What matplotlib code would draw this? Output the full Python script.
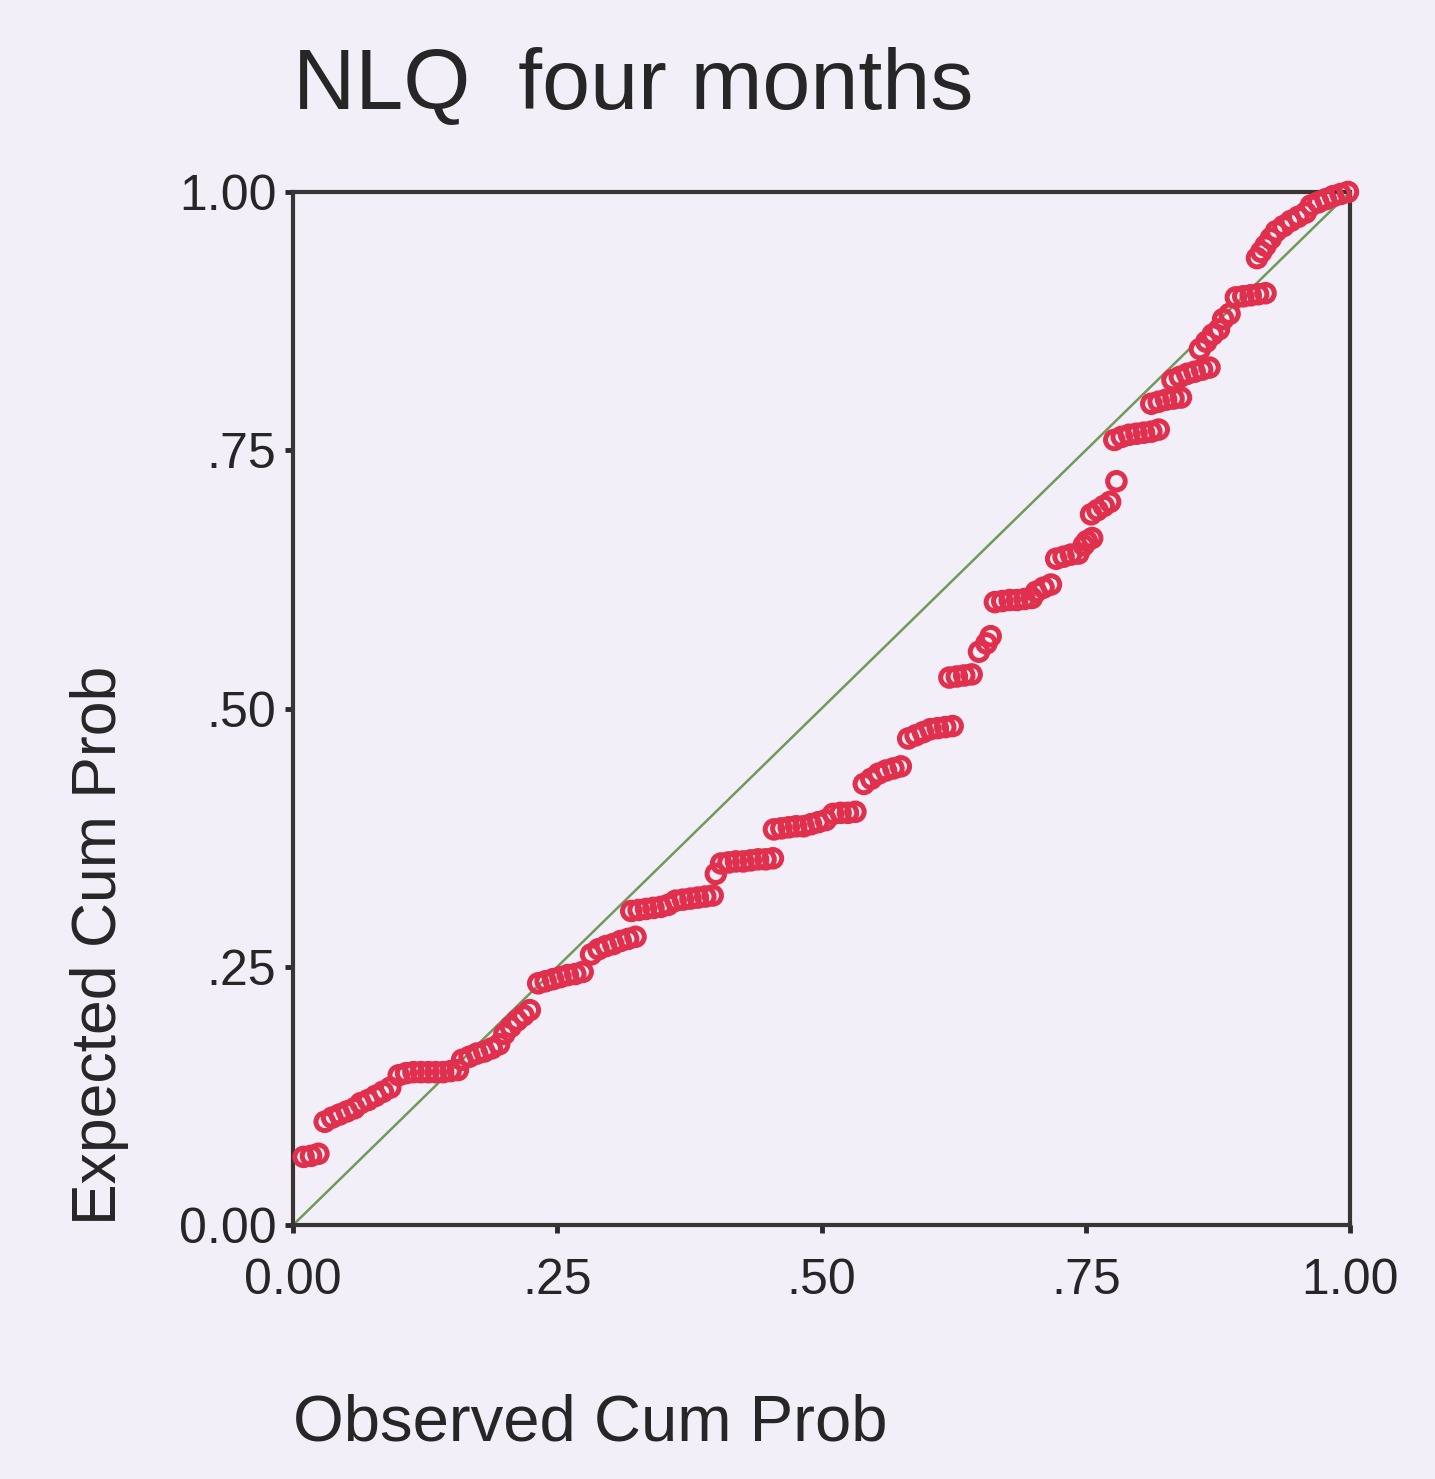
import matplotlib.pyplot as plt

# P-P plot data (observed vs expected cumulative prob)
observed = [
    .010, .017, .024,
    .030, .037, .044, .051, .058,
    .064, .071, .078, .085, .092,
    .100, .107, .114, .121, .128, .135, .142, .149, .156,
    .160, .167, .174, .181, .188, .195,
    .200, .206, .212, .218, .224,
    .232, .239, .246, .253, .260, .267, .274,
    .282, .289, .296, .303, .310, .317, .324,
    .320, .327, .334, .341, .348, .355,
    .362, .369, .376, .383, .390, .397,
    .400, .405, .412, .419, .426, .433, .440, .447, .454,
    .455, .462, .469, .476, .483, .490, .497, .504,
    .511, .518, .525, .532,
    .540, .547, .554, .561, .568, .575,
    .582, .589, .596, .603, .610, .617, .624,
    .621, .628, .635, .642,
    .649, .656, .660,
    .664, .671, .678, .685, .692, .699,
    .703, .710, .717,
    .722, .729, .736, .743, .748,
    .751, .756,
    .755, .761, .767, .773,
    .779,
    .777, .784, .791, .798, .805, .812, .819,
    .812, .819, .826, .833, .840,
    .832, .839, .846, .853, .860, .867,
    .858, .864, .870, .876,
    .880, .886,
    .892, .899, .906, .913, .920,
    .912, .916, .920, .925,
    .930, .937, .944, .951, .958,
    .963, .970, .977, .984, .991, .998,
]
expected = [
    .066, .067, .069,
    .100, .104, .107, .110, .113,
    .118, .121, .125, .129, .133,
    .145, .147, .148, .148, .148, .148, .148, .149, .150,
    .160, .163, .166, .168, .171, .175,
    .185, .192, .198, .203, .208,
    .234, .236, .238, .240, .242, .243, .245,
    .262, .267, .270, .272, .275, .277, .279,
    .304, .305, .306, .307, .308, .310,
    .314, .315, .316, .317, .318, .319,
    .340, .350, .351, .352, .352, .353, .354, .354, .355,
    .383, .384, .385, .386, .386, .388, .390, .392,
    .398, .399, .399, .400,
    .427, .432, .437, .440, .442, .444,
    .471, .474, .477, .480, .481, .482, .483,
    .530, .531, .532, .533,
    .555, .563, .570,
    .603, .604, .605, .605, .606, .607,
    .613, .617, .620,
    .645, .647, .649, .650, .658,
    .662, .665,
    .688, .692, .696, .700,
    .720,
    .760, .763, .765, .766, .767, .768, .770,
    .795, .797, .799, .800, .801,
    .818, .821, .824, .826, .828, .830,
    .848, .855, .862, .867,
    .877, .882,
    .898, .899, .900, .901, .902,
    .936, .942, .948, .955,
    .962, .967, .972, .976, .980,
    .987, .990, .993, .996, .998, 1.000,
]
ref_line = [0.0, 1.0]
ticks = [0.0, 0.25, 0.5, 0.75, 1.0]
tick_labels = ['0.00', '.25', '.50', '.75', '1.00']

plt.rcParams['font.family'] = ['Liberation Sans', 'DejaVu Sans']
bg = '#f3eff8'
ink = '#262626'

fig = plt.figure(figsize=(14.35, 14.79), dpi=100, facecolor=bg)
ax = fig.add_axes([0.2042, 0.1717, 0.7366, 0.6985], facecolor=bg)

ax.plot(ref_line, ref_line, color='#6f9a5a', lw=1.8, zorder=2)
ax.scatter(observed, expected, s=160, facecolors='none', edgecolors='#e0304d',
           linewidths=3.6, zorder=3, clip_on=False)

ax.set_xlim(0, 1)
ax.set_ylim(0, 1)
ax.set_xticks(ticks)
ax.set_xticklabels(tick_labels)
ax.set_yticks(ticks)
ax.set_yticklabels(tick_labels)
ax.tick_params(direction='out', length=6, width=3.5, colors='#2b2b2b',
               labelsize=36, labelcolor=ink)
ax.tick_params(axis='x', pad=18)
ax.tick_params(axis='y', pad=6)
for s in ax.spines.values():
    s.set_linewidth(3)
    s.set_color('#3a3434')

fig.text(0.2042, 0.926, 'NLQ  four months', fontsize=62, color=ink,
         ha='left', va='baseline')
fig.text(0.2042, 0.0262, 'Observed Cum Prob', fontsize=47, color=ink,
         ha='left', va='baseline')
fig.text(0.069, 0.1717, 'Expected Cum Prob', fontsize=45, color=ink,
         rotation=90, ha='center', va='bottom')

fig.savefig('out.png', dpi=100, facecolor=bg)
